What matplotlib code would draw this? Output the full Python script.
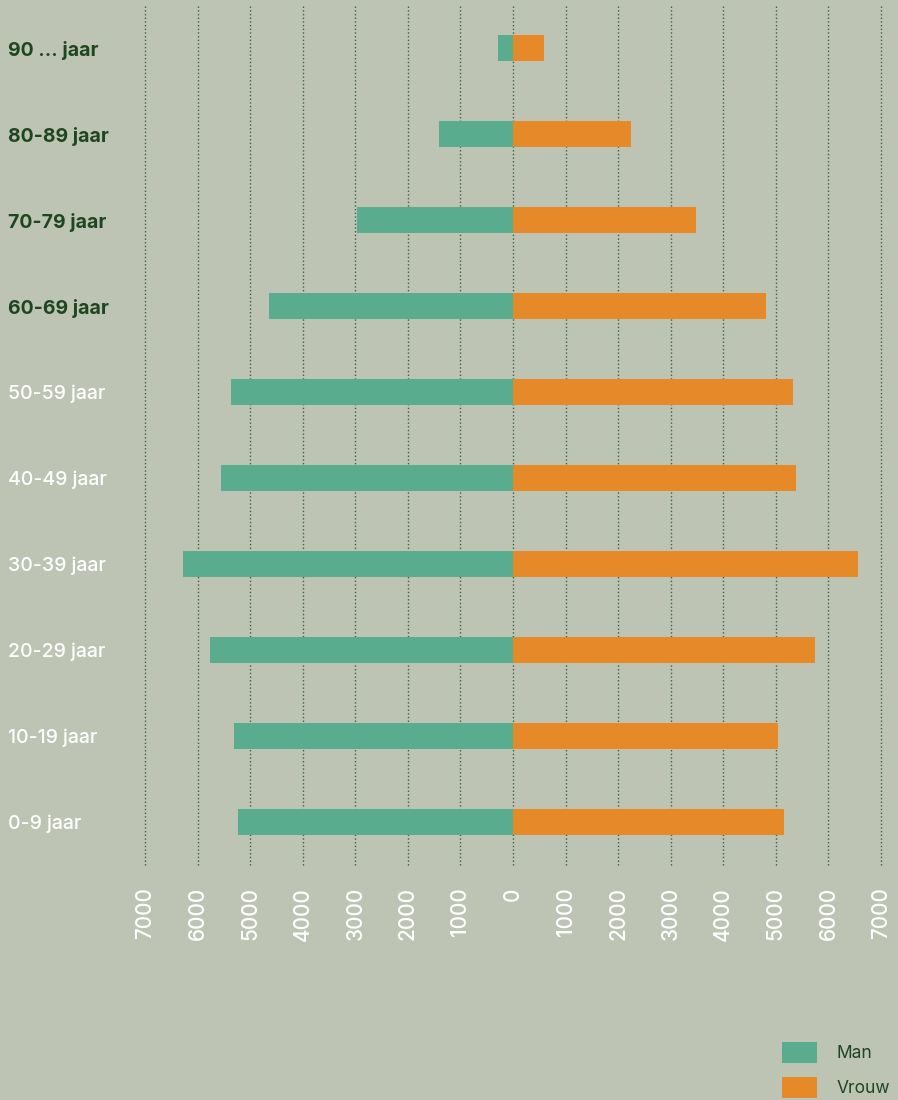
import matplotlib.pyplot as plt
import numpy as np

categories = ['0-9 jaar', '10-19 jaar', '20-29 jaar', '30-39 jaar', '40-49 jaar',
              '50-59 jaar', '60-69 jaar', '70-79 jaar', '80-89 jaar', '90 ... jaar']
man = [5230, 5310, 5760, 6280, 5555, 5360, 4640, 2970, 1410, 290]
vrouw = [5150, 5040, 5740, 6560, 5380, 5330, 4810, 3480, 2240, 590]
xticks = list(range(-7000, 7001, 1000))

bg = '#bec4b4'
c_man = '#5aac8f'
c_vrouw = '#e58929'
dark = '#1e4620'

plt.rcParams['font.family'] = ['Inter', 'DejaVu Sans']

fig = plt.figure(figsize=(8.98, 11), dpi=100, facecolor=bg)
ax = fig.add_axes([145 / 898, 1 - 865 / 1100, 736 / 898, 860 / 1100])
ax.set_facecolor(bg)

y = np.arange(len(categories))
ax.barh(y, [-m for m in man], height=0.3, color=c_man, label='Man', zorder=2)
ax.barh(y, vrouw, height=0.3, color=c_vrouw, label='Vrouw', zorder=2)

ax.set_xlim(-7000, 7000)
ax.set_ylim(-0.5, len(categories) - 0.5)
ax.set_xticks(xticks)
ax.set_xticklabels([str(abs(t)) for t in xticks], rotation=90, va='top', ha='center',
                   color='white', fontsize=15, fontweight='medium')
ax.tick_params(axis='x', length=0, pad=16)
ax.grid(axis='x', linestyle=':', color='#3e5e3e', linewidth=1)
for line in ax.get_xgridlines():
    line.set_clip_on(False)
ax.set_axisbelow(True)
for s in ax.spines.values():
    s.set_visible(False)

ax.set_yticks(y)
ax.set_yticklabels(categories)
ax.tick_params(axis='y', length=0, pad=99)
for i, lab in enumerate(ax.get_yticklabels()):
    lab.set_horizontalalignment('left')
    lab.set_fontsize(14)
    if i >= 6:
        lab.set_color(dark)
        lab.set_fontweight('bold')
    else:
        lab.set_color('white')
        lab.set_fontweight('medium')

fig.legend(loc='upper left', bbox_to_anchor=(782 / 898, 1 - 1042 / 1100), frameon=False,
           fontsize=12.5, handlelength=2.0, handleheight=1.45, handletextpad=1.15,
           labelspacing=0.85, borderpad=0, borderaxespad=0, labelcolor=dark)

fig.savefig('out.png', dpi=100, facecolor=bg)
